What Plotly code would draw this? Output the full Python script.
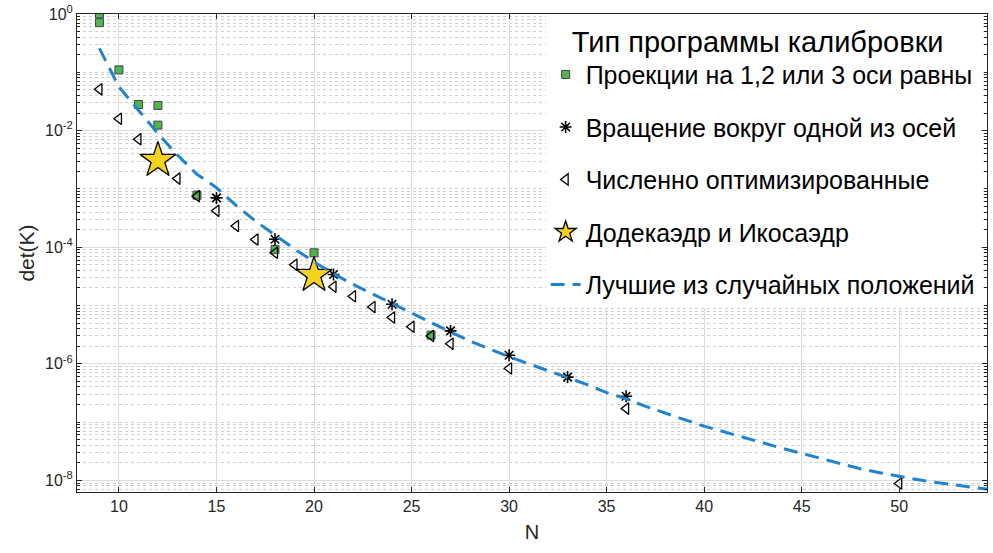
import plotly.graph_objects as go

# ---- data ----
proj_N = [9, 9, 10, 11, 12, 12, 14, 18, 20, 26]
proj_det = [1.0, 0.71, 0.11, 0.028, 0.027, 0.0124, 7.8e-4, 9.1e-5, 8.0e-5, 3.1e-6]

rot_N = [15, 18, 21, 24, 27, 30, 33, 36]
rot_det = [7.0e-4, 1.37e-4, 3.4e-5, 1.05e-5, 3.66e-6, 1.4e-6, 5.9e-7, 2.77e-7]

opt_N = [9, 10, 11, 12, 13, 14, 15, 16, 17, 18, 19, 20, 21, 22, 23, 24, 25, 26, 27, 30, 36, 50]
opt_det = [0.051, 0.016, 7.1e-3, 3.0e-3, 1.5e-3, 7.5e-4, 4.2e-4, 2.3e-4, 1.35e-4, 8.0e-5,
           5.0e-5, 3.2e-5, 2.1e-5, 1.44e-5, 9.4e-6, 6.2e-6, 4.3e-6, 3.0e-6, 2.2e-6, 8.3e-7,
           1.7e-7, 8.8e-9]

poly_N = [12, 20]
poly_det = [3.1e-3, 3.3e-5]

best_N = list(range(9, 56))
best_det = [0.257, 0.056, 0.0224, 0.0089, 0.0038, 0.00178, 0.00105, 5.2e-4, 2.8e-4, 1.62e-4,
            9.3e-5, 5.6e-5, 3.5e-5, 2.3e-5, 1.58e-5, 1.07e-5, 7.4e-6, 5.0e-6, 3.5e-6, 2.45e-6,
            1.78e-6, 1.32e-6, 1.0e-6, 7.6e-7, 5.75e-7, 4.4e-7, 3.2e-7, 2.5e-7, 1.86e-7, 1.41e-7,
            1.1e-7, 8.5e-8, 6.8e-8, 5.4e-8, 4.4e-8, 3.55e-8, 2.9e-8, 2.35e-8, 1.9e-8, 1.58e-8,
            1.35e-8, 1.17e-8, 1.02e-8, 9.1e-9, 8.1e-9, 7.4e-9, 6.8e-9]

names = ["Проекции на 1,2 или 3 оси равны",
         "Вращение вокруг одной из осей",
         "Численно оптимизированные",
         "Додекаэдр и Икосаэдр",
         "Лучшие из случайных положений"]
legend_title = "Тип программы калибровки"

x_ticks = [10, 15, 20, 25, 30, 35, 40, 45, 50]
y_tickvals = [1e0, 1e-2, 1e-4, 1e-6, 1e-8]
y_ticktext = ["10<sup>0</sup>", "10<sup>-2</sup>", "10<sup>-4</sup>", "10<sup>-6</sup>", "10<sup>-8</sup>"]

FONT = "Liberation Sans, Arial, sans-serif"
AX = "#262626"

fig = go.Figure()
fig.add_trace(go.Scatter(
    x=proj_N, y=proj_det, mode="markers", name=names[0], legendgroup="a",
    marker=dict(symbol="square", size=8, color="#4db848",
                line=dict(color="#4a3a5a", width=1))))
fig.add_trace(go.Scatter(
    x=rot_N, y=rot_det, mode="markers", name=names[1], legendgroup="b",
    marker=dict(symbol="asterisk-open", size=10, color="black",
                line=dict(color="black", width=1.6))))
fig.add_trace(go.Scatter(
    x=opt_N, y=opt_det, mode="markers", name=names[2], legendgroup="c",
    marker=dict(symbol="triangle-left-open", size=10, color="black",
                line=dict(color="black", width=1.3))))
fig.add_trace(go.Scatter(
    x=poly_N, y=poly_det, mode="markers", name=names[3], legendgroup="d",
    marker=dict(symbol="star", size=27, color="#f5d31c",
                line=dict(color="black", width=1.3))))
fig.add_trace(go.Scatter(
    x=best_N, y=best_det, mode="lines", name=names[4], legendgroup="e",
    line=dict(color="#1f83d0", width=3, dash="14px,8px")))

fig.update_layout(
    width=993, height=553,
    margin=dict(l=77, r=6, t=14, b=61, autoexpand=False),
    paper_bgcolor="white", plot_bgcolor="white",
    font=dict(family=FONT, color=AX, size=16),
    legend=dict(
        x=0.515, y=1, xanchor="left", yanchor="top",
        bgcolor="white", borderwidth=0,
        title=dict(text="   " + legend_title, font=dict(size=29, color="black", family=FONT)),
        font=dict(size=25, color="black", family=FONT),
        tracegroupgap=17, traceorder="grouped",
    ),
    showlegend=True,
)

fig.update_xaxes(
    range=[7.85, 54.5], tickmode="array", tickvals=x_ticks, automargin=False,
    ticks="inside", ticklen=5, tickcolor=AX, ticklabeloverflow="allow",
    showline=True, linecolor=AX, linewidth=1, mirror="ticks",
    showgrid=True, gridcolor="#dcdcdc", gridwidth=1, zeroline=False,
    tickfont=dict(size=16, color=AX, family=FONT),
    title=dict(text="N", font=dict(size=20, color=AX, family=FONT), standoff=10),
)
fig.update_yaxes(
    type="log", range=[-8.2, 0], tickmode="array", automargin=False,
    tickvals=y_tickvals, ticktext=y_ticktext, ticklabeloverflow="allow",
    ticks="inside", ticklen=5, tickcolor=AX,
    showline=True, linecolor=AX, linewidth=1, mirror="ticks",
    showgrid=True, gridcolor="#dcdcdc", gridwidth=1, zeroline=False,
    tickfont=dict(size=16, color=AX, family=FONT),
    minor=dict(dtick="D1", showgrid=True, gridcolor="#cfcfcf", griddash="dot",
               gridwidth=1, ticks="inside", ticklen=3, tickcolor=AX),
    title=dict(text="det(K)", font=dict(size=21, color=AX, family=FONT), standoff=4),
)

# remove the browser's default 8px page margin so the figure sits at (0,0)
fig.write_html("out.html", config={"displayModeBar": False},
               post_script="document.body.style.margin='0';")
